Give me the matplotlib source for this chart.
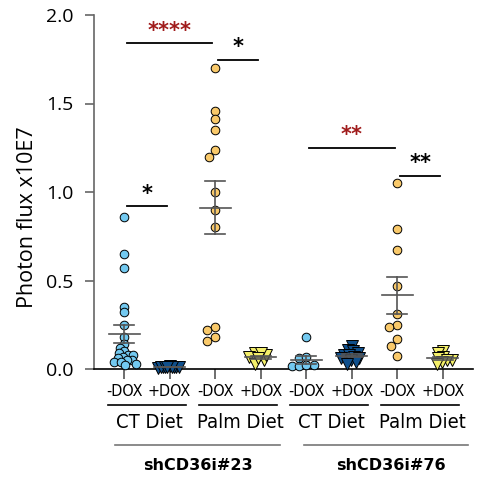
import numpy as np
import matplotlib
matplotlib.use("Agg")
import matplotlib.pyplot as plt
from matplotlib import font_manager
from matplotlib.transforms import blended_transform_factory

# ---- data (photon flux, x10E7) ----
dox_labels = ["-DOX", "+DOX", "-DOX", "+DOX", "-DOX", "+DOX", "-DOX", "+DOX"]
diet_labels = ["CT Diet", "Palm Diet", "CT Diet", "Palm Diet"]
line_labels = ["shCD36i#23", "shCD36i#76"]

ct_minus_23 = [0.86, 0.65, 0.57, 0.35, 0.32, 0.25, 0.18, 0.14, 0.12, 0.10, 0.09,
               0.08, 0.08, 0.07, 0.06, 0.05, 0.05, 0.04, 0.04, 0.03, 0.02]
ct_plus_23 = [0.010, 0.012, 0.008, 0.015, 0.011, 0.009, 0.013, 0.010, 0.012, 0.014]
palm_minus_23 = [1.70, 1.46, 1.41, 1.35, 1.24, 1.20, 1.00, 0.90, 0.80,
                 0.24, 0.22, 0.18, 0.16]
palm_plus_23 = [0.05, 0.09, 0.07, 0.08, 0.09, 0.03, 0.06]
ct_minus_76 = [0.18, 0.06, 0.065, 0.015, 0.02, 0.015, 0.02]
ct_plus_76 = [0.13, 0.11, 0.10, 0.09, 0.08, 0.08, 0.07, 0.06, 0.06, 0.05, 0.04, 0.03]
palm_minus_76 = [1.05, 0.79, 0.67, 0.47, 0.31, 0.25, 0.24, 0.17, 0.13, 0.075]
palm_plus_76 = [0.10, 0.09, 0.07, 0.06, 0.05, 0.05, 0.04, 0.03]

groups = [ct_minus_23, ct_plus_23, palm_minus_23, palm_plus_23,
          ct_minus_76, ct_plus_76, palm_minus_76, palm_plus_76]

# significance: (left group, right group, bar height, stars, colour)
sig_pairs = [(0, 2, 1.84, "****", "#a01c1c"),
             (2, 3, 1.745, "*", "black"),
             (0, 1, 0.92, "*", "black"),
             (4, 6, 1.25, "**", "#a01c1c"),
             (6, 7, 1.09, "**", "black")]

# ---- styling ----
c_light = "#73c9f0"
c_dark = "#0f4f8c"
c_orange = "#f9c96a"
c_yellow = "#f4ef6a"
styles = [("o", c_light, 6.2), ("v", c_dark, 9.0), ("o", c_orange, 6.2), ("v", c_yellow, 9.0)] * 2
spacing = [0.6, 0.18, 1.0, 0.45, 0.85, 0.4, 1.0, 0.4]

# narrow face for the category labels
cond = font_manager.FontProperties(family="DejaVu Sans", stretch="condensed")
cond_file = font_manager.findfont(cond)
if "Condensed" in cond_file:
    narrow = dict(family="DejaVu Sans", fontstretch="condensed")
    nscale = 1.0
else:
    narrow = dict(family="Liberation Sans")
    nscale = 0.88

W, H, DPI = 489, 482, 100
fig = plt.figure(figsize=(W / DPI, H / DPI), dpi=DPI)
ax = fig.add_axes([94 / W, 1 - 369 / H, 379 / W, 354 / H])
ax.set_xlim(-0.66, 7.66)
ax.set_ylim(0, 2.0)

px_per_x = 379 / 8.32
px_per_y = 354 / 2.0


def swarm(vals, diam_px):
    """Offsets (in data x units) placing points side by side without overlap."""
    vals = np.asarray(vals, float)
    order = np.argsort(vals)[::-1]
    placed = []
    offs = np.zeros(len(vals))
    step = diam_px / 4.0
    for i in order:
        yp = vals[i] * px_per_y
        best = None
        for k in range(0, 400):
            for sgn in ([1] if k == 0 else [-1, 1]):
                xo = sgn * k * step
                ok = all((xo - px) ** 2 + (yp - py) ** 2 >= diam_px ** 2 * 0.98
                         for px, py in placed)
                if ok:
                    best = xo
                    break
            if best is not None:
                break
        placed.append((best, yp))
        offs[i] = best / px_per_x
    return offs


for i, vals in enumerate(groups):
    m, col, ms = styles[i]
    diam = ms / 72 * DPI * spacing[i]
    offs = swarm(vals, diam)
    ax.plot(i + offs, vals, linestyle="none", marker=m, ms=ms, mfc=col,
            mec="black", mew=0.7, clip_on=False, zorder=3)
    arr = np.asarray(vals)
    mean = arr.mean()
    sem = arr.std(ddof=1) / np.sqrt(len(arr))
    lc = "#555555"
    ax.plot([i - 0.34, i + 0.34], [mean, mean], color=lc, lw=1.2, zorder=4)
    ax.plot([i, i], [mean - sem, mean + sem], color=lc, lw=1.2, zorder=4)
    for v in (mean - sem, mean + sem):
        ax.plot([i - 0.22, i + 0.22], [v, v], color=lc, lw=1.2, zorder=4)

for a, b, h, stars, col in sig_pairs:
    ax.plot([a + 0.06, b - 0.06], [h, h], color="black", lw=1.3, zorder=5)
    ax.text((a + b) / 2, h + 0.015, stars, ha="center", va="bottom",
            color=col, fontsize=15, fontweight="bold", family="DejaVu Sans")

# axes
ax.spines["top"].set_visible(False)
ax.spines["right"].set_visible(False)
ax.spines["left"].set_color("#666666")
ax.spines["left"].set_linewidth(1.2)
ax.spines["bottom"].set_color("black")
ax.spines["bottom"].set_linewidth(1.2)
ax.set_yticks([0, 0.5, 1.0, 1.5, 2.0])
ax.set_yticklabels(["0.0", "0.5", "1.0", "1.5", "2.0"], family="Open Sans", fontsize=14)
ax.tick_params(axis="y", length=6.5, width=1.2, color="#666666", pad=8)
ax.set_xticks(range(8))
ax.set_xticklabels(dox_labels, fontsize=11.5 * nscale, **narrow)
ax.tick_params(axis="x", length=7, width=1.2, color="#555555", pad=4)

fig.text(28 / W, 1 - 217 / H, "Photon flux x10E7", rotation=90, ha="center",
         va="center", fontsize=15.5, family="Open Sans")

tr = blended_transform_factory(ax.transData, fig.transFigure)
for k, lab in enumerate(diet_labels):
    c = 2 * k + 0.5
    ax.plot([c - 0.85, c + 0.86], [1 - 405 / H] * 2, color="black", lw=1.2,
            transform=tr, clip_on=False)
    ax.text(c + 0.05, 1 - 423 / H, lab, transform=tr, ha="center", va="center",
            fontsize=14.5 * nscale, **narrow)

for lab, (x0, x1), xc in zip(line_labels, [(-0.2, 3.42), (3.95, 7.54)], [1.62, 5.86]):
    ax.plot([x0, x1], [1 - 445 / H] * 2, color="#777777", lw=1.2,
            transform=tr, clip_on=False)
    ax.text(xc, 1 - 465 / H, lab, transform=tr, ha="center", va="center",
            fontsize=11.5, fontweight="bold", family="DejaVu Sans")

fig.savefig("out.png", dpi=DPI)
